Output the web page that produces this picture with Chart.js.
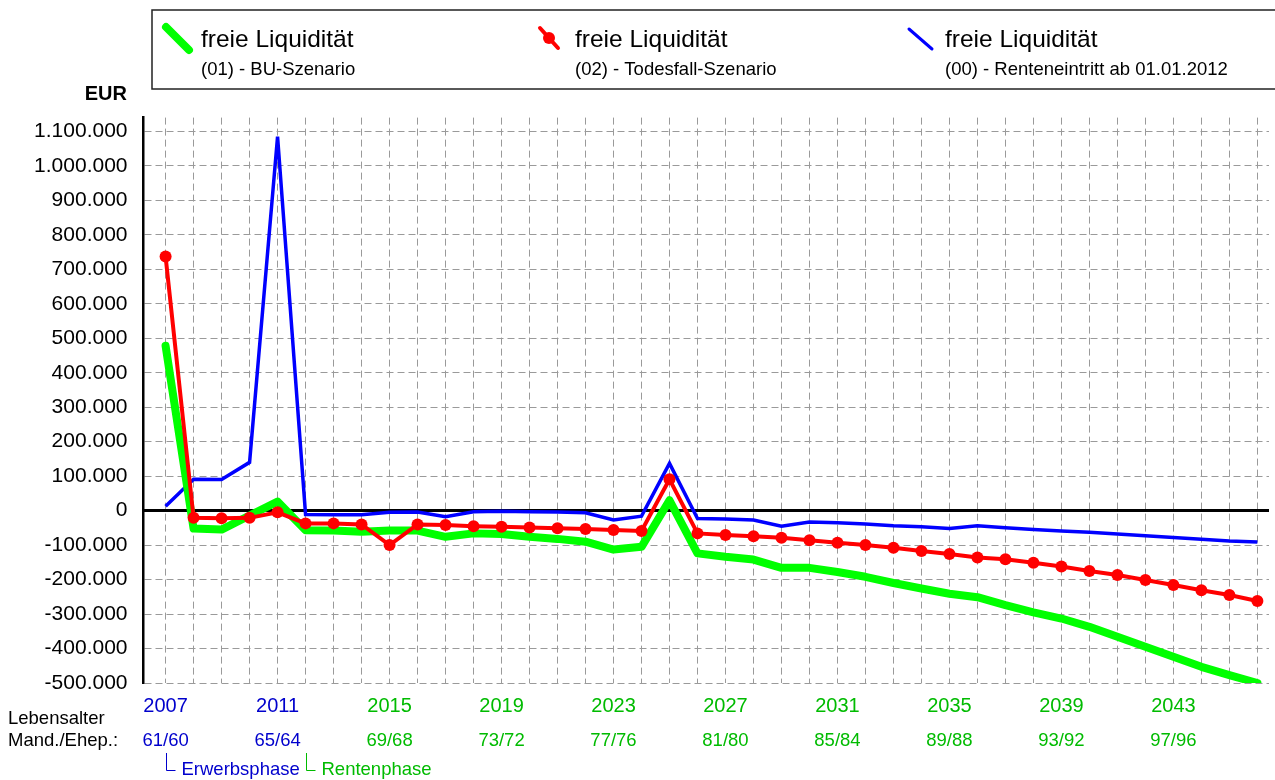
<!DOCTYPE html>
<html>
<head>
<meta charset="utf-8">
<script src="https://cdn.jsdelivr.net/npm/chart.js@4.4.0/dist/chart.umd.min.js"></script>
<style>
  html, body { margin: 0; padding: 0; background: #fff; overflow: hidden; }
</style>
</head>
<body>
<canvas id="chart" width="1275" height="780"></canvas>
<script>
// Jahre und Werte (EUR)
const years = [2007, 2008, 2009, 2010, 2011, 2012, 2013, 2014, 2015, 2016,
  2017, 2018, 2019, 2020, 2021, 2022, 2023, 2024, 2025, 2026,
  2027, 2028, 2029, 2030, 2031, 2032, 2033, 2034, 2035, 2036,
  2037, 2038, 2039, 2040, 2041, 2042, 2043, 2044, 2045, 2046];

// (01) - BU-Szenario
const buSzenario = [478000, -52000, -55000, -14000, 26000, -57000, -58000, -61000, -58000, -58000,
  -76000, -66000, -68000, -76000, -82000, -90000, -113000, -105000, 30000, -124000,
  -134000, -142000, -166000, -166000, -178000, -192000, -210000, -226000, -241000, -251000,
  -274000, -295000, -313000, -337000, -366000, -395000, -424000, -453000, -477000, -500000];

// (02) - Todesfall-Szenario
const todesfall = [737000, -21000, -22000, -21000, -5000, -37000, -37000, -40000, -100000, -40000,
  -42000, -45000, -47000, -49000, -51000, -53000, -56000, -59000, 91000, -66000,
  -71000, -74000, -79000, -86000, -93000, -100000, -108000, -117000, -126000, -136000,
  -141000, -151000, -162000, -175000, -187000, -201000, -216000, -231000, -245000, -262000];

// (00) - Renteneintritt ab 01.01.2012
const renteneintritt = [13000, 91000, 90000, 140000, 1085000, -11000, -12000, -12000, -5000, -4000,
  -18000, -3000, -2000, -3000, -4000, -6000, -27000, -16000, 137000, -23000,
  -24000, -27000, -45000, -33000, -35000, -39000, -44000, -47000, -52000, -44000,
  -50000, -55000, -59000, -63000, -68000, -73000, -78000, -83000, -88000, -91000];

// Beschriftung der y-Achse
const yTickValues = [-500000, -400000, -300000, -200000, -100000, 0, 100000, 200000,
  300000, 400000, 500000, 600000, 700000, 800000, 900000, 1000000, 1100000];

const seriesLabels = ['(01) - BU-Szenario', '(02) - Todesfall-Szenario', '(00) - Renteneintritt ab 01.01.2012'];
const rentenBeginn = 2012;   // ab hier Rentenphase (grüne Beschriftung)
const labelStep = 4;         // jede 4. Jahreszahl beschriftet

const FONT = 'Arial, "Liberation Sans", sans-serif';
const BLUE_TXT = '#0000cc';
const GREEN_TXT = '#00bb00';

function fmtEur(v) {
  const s = String(Math.abs(v)).replace(/\B(?=(\d{3})+(?!\d))/g, '.');
  return (v < 0 ? '-' : '') + s;
}

function tickColor(ctx) {
  const v = ctx.tick ? ctx.tick.value : 0;
  return v < rentenBeginn ? BLUE_TXT : GREEN_TXT;
}

function yearTicks(scale) {
  scale.ticks = years.map(y => ({ value: y }));
}

const points = arr => years.map((y, i) => ({ x: y, y: arr[i] }));

// Nulllinie, Legende und Zusatztexte
const decor = {
  id: 'decor',
  beforeDatasetsDraw(chart) {
    const ctx = chart.ctx;
    const y0 = chart.scales.y.getPixelForValue(0);
    const a = chart.chartArea;
    ctx.save();
    ctx.strokeStyle = '#000';
    ctx.lineWidth = 3;
    ctx.beginPath();
    ctx.moveTo(a.left, y0);
    ctx.lineTo(a.right, y0);
    ctx.stroke();
    ctx.restore();
  },
  afterDraw(chart) {
    const ctx = chart.ctx;
    const xs = chart.scales.x;
    ctx.save();

    // Legendenrahmen
    ctx.strokeStyle = '#222';
    ctx.lineWidth = 1.5;
    ctx.strokeRect(152, 10, 1140, 79);

    ctx.lineCap = 'round';
    // grün
    ctx.strokeStyle = '#00ff00';
    ctx.lineWidth = 8;
    ctx.beginPath(); ctx.moveTo(166, 27); ctx.lineTo(189, 50); ctx.stroke();
    // rot
    ctx.strokeStyle = '#ff0000';
    ctx.lineWidth = 4;
    ctx.beginPath(); ctx.moveTo(540, 28); ctx.lineTo(558, 48); ctx.stroke();
    ctx.fillStyle = '#ff0000';
    ctx.beginPath(); ctx.arc(549, 38, 6, 0, Math.PI * 2); ctx.fill();
    // blau
    ctx.strokeStyle = '#0000ff';
    ctx.lineWidth = 3;
    ctx.beginPath(); ctx.moveTo(909, 29); ctx.lineTo(932, 49); ctx.stroke();

    ctx.fillStyle = '#000';
    ctx.textAlign = 'left';
    ctx.textBaseline = 'alphabetic';
    [201, 575, 945].forEach((lx, i) => {
      ctx.font = '24.5px ' + FONT;
      ctx.fillText('freie Liquidität', lx, 47);
      ctx.font = '18.5px ' + FONT;
      ctx.fillText(seriesLabels[i], lx, 75);
    });

    // Einheit
    ctx.font = 'bold 20px ' + FONT;
    ctx.textAlign = 'right';
    ctx.fillText('EUR', 127, 100);

    // Lebensalter
    ctx.font = '18.5px ' + FONT;
    ctx.textAlign = 'left';
    ctx.textBaseline = 'middle';
    ctx.fillText('Lebensalter', 8, 719);
    ctx.fillText('Mand./Ehep.:', 8, 741);

    // Phasen
    const phases = [[years[0], 'Erwerbsphase', BLUE_TXT], [rentenBeginn, 'Rentenphase', GREEN_TXT]];
    phases.forEach(([yr, txt, col]) => {
      const px = Math.round(xs.getPixelForValue(yr)) + 0.5;
      ctx.strokeStyle = col;
      ctx.lineWidth = 1;
      ctx.lineCap = 'butt';
      ctx.beginPath();
      ctx.moveTo(px, 753);
      ctx.lineTo(px, 770.5);
      ctx.lineTo(px + 9, 770.5);
      ctx.stroke();
      ctx.fillStyle = col;
      ctx.fillText(txt, px + 15, 770);
    });
    ctx.restore();
  }
};

const ctx = document.getElementById('chart').getContext('2d');
const chart = new Chart(ctx, {
  type: 'line',
  data: {
    datasets: [
      {
        label: seriesLabels[0],
        data: points(buSzenario),
        borderColor: '#00ff00',
        borderWidth: 8,
        borderCapStyle: 'round',
        borderJoinStyle: 'round',
        pointRadius: 0,
        order: 1
      },
      {
        label: seriesLabels[1],
        data: points(todesfall),
        borderColor: '#ff0000',
        backgroundColor: '#ff0000',
        borderWidth: 4,
        pointRadius: 6,
        pointBorderWidth: 0,
        pointBackgroundColor: '#ff0000',
        order: 0
      },
      {
        label: seriesLabels[2],
        data: points(renteneintritt),
        borderColor: '#0000ff',
        borderWidth: 3.5,
        pointRadius: 0,
        order: 2
      }
    ]
  },
  options: {
    responsive: false,
    animation: false,
    devicePixelRatio: 1,
    layout: { padding: { top: 117.6, left: 0, right: 0, bottom: 22 } },
    plugins: {
      legend: { display: false },
      tooltip: { enabled: false },
      title: { display: false }
    },
    scales: {
      x: {
        type: 'linear',
        position: 'bottom',
        min: 2006.211,
        max: 2046.415,
        afterBuildTicks: yearTicks,
        afterFit: s => { s.height = 40; },
        ticks: {
          autoSkip: false,
          maxRotation: 0,
          padding: 11,
          color: tickColor,
          font: { family: FONT, size: 20 },
          callback: v => ((v - years[0]) % labelStep === 0 ? String(v) : '')
        },
        grid: { color: '#9a9a9a', lineWidth: 1, drawTicks: false },
        border: { display: false, dash: [7, 4] }
      },
      x2: {
        type: 'linear',
        position: 'bottom',
        min: 2006.211,
        max: 2046.415,
        afterBuildTicks: yearTicks,
        afterFit: s => { s.height = 35; },
        ticks: {
          autoSkip: false,
          maxRotation: 0,
          padding: 7,
          color: tickColor,
          font: { family: FONT, size: 18.5 },
          callback: v => ((v - years[0]) % labelStep === 0 ? (v - 1946) + '/' + (v - 1947) : '')
        },
        grid: { display: false, drawTicks: false },
        border: { display: false }
      },
      y: {
        min: -500000,
        max: 1140000,
        afterBuildTicks: s => { s.ticks = yTickValues.map(v => ({ value: v })); },
        afterFit: s => { s.width = 143.5; },
        ticks: {
          autoSkip: false,
          padding: 16,
          color: '#000',
          font: { family: FONT, size: 21 },
          callback: v => fmtEur(v)
        },
        grid: { color: '#9a9a9a', lineWidth: 1, drawTicks: false },
        border: { display: true, color: '#000', width: 2.5, dash: [7, 4] }
      }
    }
  },
  plugins: [decor]
});
</script>
</body>
</html>
